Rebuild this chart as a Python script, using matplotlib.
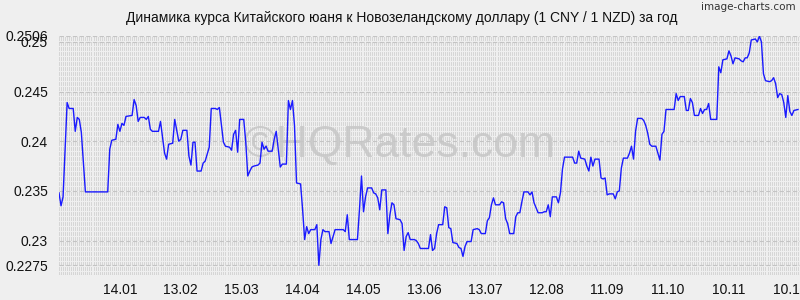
import matplotlib
matplotlib.use("Agg")
import matplotlib.pyplot as plt
import numpy as np

plt.rcParams['font.family'] = ['Liberation Sans', 'DejaVu Sans']

## Data: day of the year and rate (1 CNY in NZD)
days = [0, 1, 2, 4, 5, 7, 8, 9, 10, 11, 13, 24, 25, 26, 28, 29, 30, 31, 32, 33,
        36, 37, 38, 39, 40, 42, 43, 44, 45, 46, 49, 50, 52, 53, 54, 56, 57, 59, 60, 61,
        63, 64, 65, 66, 67, 68, 70, 71, 72, 74, 75, 77, 78, 79, 81, 82, 84, 85, 86, 87,
        88, 89, 91, 92, 93, 94, 95, 96, 98, 99, 100, 101, 102, 103, 105, 106, 107, 108, 109, 110,
        112, 113, 114, 115, 116, 117, 119, 120, 121, 122, 123, 124, 126, 127, 128, 129, 130, 131, 133, 134,
        135, 136, 140, 141, 142, 143, 147, 148, 149, 150, 151, 152, 154, 155, 156, 157, 158, 159, 161, 162,
        163, 164, 165, 166, 168, 169, 170, 171, 172, 173, 175, 176, 177, 178, 182, 183, 184, 185, 186, 187,
        189, 190, 191, 192, 193, 194, 196, 197, 198, 199, 200, 201, 203, 204, 206, 207, 208, 210, 211, 212,
        213, 214, 215, 217, 218, 219, 220, 221, 222, 224, 225, 226, 227, 228, 229, 231, 232, 233, 234, 236,
        238, 239, 240, 241, 242, 243, 245, 246, 247, 248, 249, 253, 254, 255, 256, 257, 259, 260, 261, 262,
        263, 264, 266, 267, 268, 269, 270, 271, 273, 274, 275, 276, 277, 278, 280, 281, 282, 283, 284, 285,
        287, 288, 289, 290, 291, 292, 294, 295, 296, 297, 298, 299, 301, 303, 304, 305, 306, 308, 309, 310,
        311, 312, 313, 315, 316, 317, 318, 319, 320, 321, 324, 325, 326, 327, 329, 330, 331, 332, 333, 335,
        336, 337, 338, 339, 340, 341, 343, 344, 345, 346, 347, 348, 350, 351, 352, 353, 354, 355, 356, 357,
        358, 359, 360, 361, 362, 364]
rate = [0.2348, 0.2335, 0.2344, 0.2439, 0.2433, 0.2433, 0.2410, 0.2424, 0.2422, 0.2409,
        0.2349, 0.2349, 0.2392, 0.2401, 0.2402, 0.2417, 0.2410, 0.2418, 0.2416, 0.2425,
        0.2426, 0.2442, 0.2436, 0.2420, 0.2424, 0.2424, 0.2422, 0.2425, 0.2412, 0.2410,
        0.2410, 0.2420, 0.2388, 0.2382, 0.2397, 0.2398, 0.2422, 0.2400, 0.2402, 0.2411,
        0.2411, 0.2385, 0.2376, 0.2399, 0.2399, 0.2370, 0.2370, 0.2378, 0.2380, 0.2394,
        0.2433, 0.2433, 0.2432, 0.2434, 0.2399, 0.2395, 0.2394, 0.2391, 0.2407, 0.2411,
        0.2389, 0.2422, 0.2422, 0.2399, 0.2365, 0.2370, 0.2374, 0.2375, 0.2376, 0.2378,
        0.2399, 0.2392, 0.2395, 0.2390, 0.2390, 0.2402, 0.2410, 0.2392, 0.2374, 0.2377,
        0.2377, 0.2441, 0.2432, 0.2441, 0.2416, 0.2358, 0.2357, 0.2331, 0.2301, 0.2314,
        0.2307, 0.2311, 0.2311, 0.2316, 0.2275, 0.2301, 0.2311, 0.2309, 0.2309, 0.2297,
        0.2304, 0.2311, 0.2311, 0.2309, 0.2326, 0.2301, 0.2301, 0.2331, 0.2365, 0.2329,
        0.2344, 0.2353, 0.2353, 0.2348, 0.2347, 0.2343, 0.2331, 0.2351, 0.2351, 0.2307,
        0.2326, 0.2338, 0.2336, 0.2322, 0.2321, 0.2317, 0.2290, 0.2304, 0.2308, 0.2301,
        0.2301, 0.2300, 0.2297, 0.2292, 0.2292, 0.2306, 0.2290, 0.2292, 0.2307, 0.2316,
        0.2316, 0.2334, 0.2333, 0.2313, 0.2312, 0.2298, 0.2297, 0.2293, 0.2292, 0.2284,
        0.2294, 0.2299, 0.2299, 0.2311, 0.2312, 0.2311, 0.2307, 0.2307, 0.2320, 0.2323,
        0.2336, 0.2343, 0.2336, 0.2336, 0.2339, 0.2338, 0.2322, 0.2317, 0.2307, 0.2307,
        0.2324, 0.2328, 0.2328, 0.2339, 0.2349, 0.2349, 0.2346, 0.2349, 0.2338, 0.2328,
        0.2328, 0.2329, 0.2329, 0.2336, 0.2324, 0.2344, 0.2344, 0.2338, 0.2348, 0.2372,
        0.2384, 0.2384, 0.2378, 0.2378, 0.2390, 0.2383, 0.2382, 0.2375, 0.2370, 0.2384,
        0.2375, 0.2382, 0.2382, 0.2363, 0.2362, 0.2363, 0.2346, 0.2347, 0.2347, 0.2342,
        0.2349, 0.2350, 0.2373, 0.2383, 0.2383, 0.2388, 0.2395, 0.2382, 0.2410, 0.2423,
        0.2423, 0.2421, 0.2416, 0.2408, 0.2397, 0.2395, 0.2395, 0.2388, 0.2381, 0.2407,
        0.2410, 0.2432, 0.2432, 0.2432, 0.2448, 0.2441, 0.2445, 0.2445, 0.2431, 0.2431,
        0.2443, 0.2439, 0.2426, 0.2426, 0.2433, 0.2428, 0.2432, 0.2432, 0.2438, 0.2422,
        0.2422, 0.2475, 0.2469, 0.2482, 0.2483, 0.2491, 0.2486, 0.2478, 0.2484, 0.2483,
        0.2481, 0.2480, 0.2484, 0.2484, 0.2489, 0.2502, 0.2503, 0.2500, 0.2506, 0.2500,
        0.2468, 0.2461, 0.2460, 0.2461, 0.2464, 0.2458, 0.2444, 0.2448, 0.2447, 0.2439,
        0.2424, 0.2446, 0.2430, 0.2426, 0.2431, 0.2432]

## Axis labels
ytick_vals = [0.2275, 0.23, 0.235, 0.24, 0.245, 0.25, 0.2506]
ytick_text = ["0.2275", "0.23", "0.235", "0.24", "0.245", "0.25", "0.2506"]
xtick_days = [30, 60, 90, 120, 150, 180, 210, 240, 270, 300, 330, 360]
xtick_text = ["14.01", "13.02", "15.03", "14.04", "14.05", "13.06",
              "13.07", "12.08", "11.09", "11.10", "10.11", "10.12"]

bg = "#efefef"
fig = plt.figure(figsize=(8, 3), dpi=100, facecolor=bg)
ax = fig.add_axes([59 / 800, 25 / 300, 741 / 800, 239 / 300], facecolor=bg)

ax.set_xlim(0, 365)
ax.set_ylim(0.22653, 0.2506)

## background grid: dashed vertical line for every day
ax.vlines(np.arange(0, 366), 0, 1, transform=ax.get_xaxis_transform(),
          colors="#d6d6d6", linewidth=0.72, linestyles=(0, (3.9, 2.0)),
          antialiased=False, zorder=0)
## dashed horizontal lines at labelled levels
for v in ytick_vals:
    ax.axhline(v, color="#c4c4c4", linewidth=0.8, linestyle=(0, (4, 2)), zorder=1)
ax.axhline(0.22653, color="#c4c4c4", linewidth=0.8, linestyle=(0, (1.5, 1.5)), zorder=1)

## watermark
ax.text(0.46, 0.54, "\u00a9HQRates.com", transform=ax.transAxes, ha="center", va="center",
        fontsize=32, color="#c6c6c6", alpha=0.85, zorder=1)

## the rate line
ax.plot(days, rate, color="#1a1aff", linewidth=1.0, zorder=3)

for s in ax.spines.values():
    s.set_visible(False)
ax.set_yticks(ytick_vals)
ax.set_yticklabels(ytick_text)
ax.set_xticks(xtick_days)
ax.set_xticklabels(xtick_text)
ax.tick_params(length=0, labelsize=10, colors="#111111")
ax.tick_params(axis="y", pad=8)
ax.tick_params(axis="x", pad=6)

fig.text(0.502, 0.94, "Динамика курса Китайского юаня к Новозеландскому доллару (1 CNY / 1 NZD) за год",
         ha="center", va="center", fontsize=10, color="#111111")
fig.text(0.994, 0.975, "image-charts.com", ha="right", va="center", fontsize=7.5,
         color="#333333", family=["DejaVu Sans Condensed", "DejaVu Sans"])

plt.savefig("out.png", dpi=100, facecolor=bg)
